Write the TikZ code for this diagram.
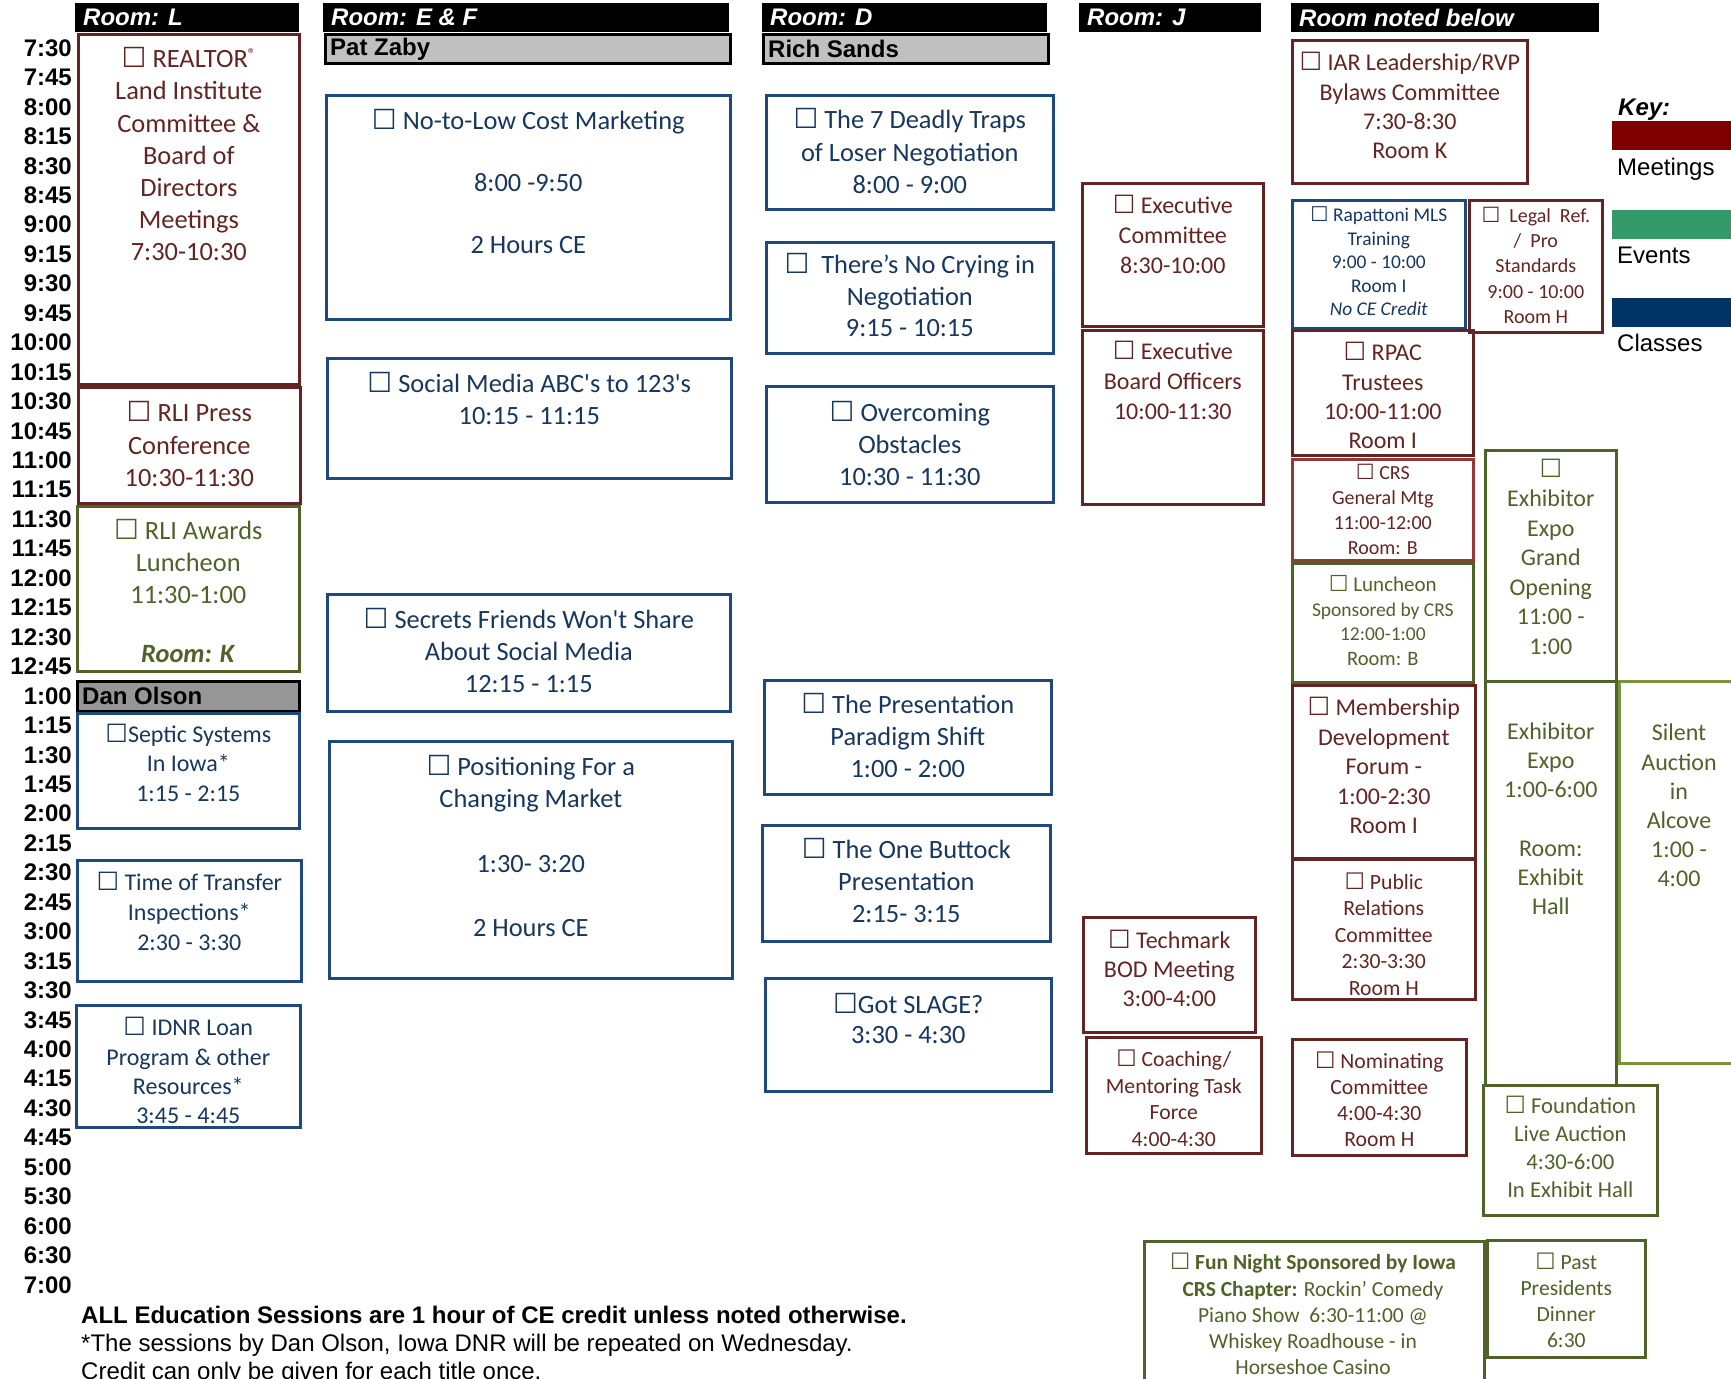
\documentclass[tikz,border=0pt]{standalone}
\usepackage{fontspec}
\setmainfont{Carlito}
\newfontfamily\arial{Liberation Sans}
\newfontfamily\symf{DejaVu Sans}
\usepackage{graphicx}
\usetikzlibrary{positioning}

\definecolor{meetc}{RGB}{99,37,35}
\definecolor{meetlt}{RGB}{149,55,53}
\definecolor{eventc}{RGB}{79,98,40}
\definecolor{eventlt}{RGB}{119,147,60}
\definecolor{classc}{RGB}{31,73,125}
\definecolor{classtxt}{RGB}{23,55,94}
\definecolor{keymeet}{RGB}{128,0,0}
\definecolor{keyevent}{RGB}{51,153,102}
\definecolor{keyclass}{RGB}{0,51,102}
\definecolor{grayhdr}{RGB}{192,192,192}
\definecolor{graydan}{RGB}{150,150,150}

\newcommand{\cbox}{{\symf\scalebox{1.05}{☐}}}
\newcommand{\regd}{\raisebox{0.32em}{\scalebox{0.6}{®}}}

\tikzset{
    slot/.style={draw, line width=2.6pt, inner sep=0pt, anchor=north west},
    sz/.style 2 args={minimum width=#1pt, minimum height=#2pt},
    meet/.style={slot, draw=meetc},
    meetl/.style={slot, draw=meetlt},
    event/.style={slot, draw=eventc},
    eventl/.style={slot, draw=eventlt},
    classb/.style={slot, draw=classc},
    fs/.style 2 args={font=\fontsize{#1}{#2}\selectfont},
    ttx/.style={align=center, inner sep=0pt, yshift=-3pt,
        execute at begin node=\strut, execute at end node=\strut},
    mtxt/.style={ttx, text=meetc},
    etxt/.style={ttx, text=eventc},
    ctxt/.style={ttx, text=classtxt},
    roomhdr/.style={fill=black, inner sep=0pt, anchor=north west},
    hdrtxt/.style={text=white, inner sep=0pt,
        font=\arial\bfseries\itshape\fontsize{24}{28}\selectfont},
    speaker/.style={draw=black, line width=2.6pt, inner sep=0pt, anchor=north west},
    spktxt/.style={inner sep=0pt, font=\arial\bfseries\fontsize{24}{28}\selectfont},
    tlabel/.style={inner sep=0pt, anchor=east, font=\arial\bfseries\fontsize{24}{28}\selectfont},
    keybar/.style={inner sep=0pt, anchor=north west, minimum width=133pt, minimum height=29pt},
    keytxt/.style={inner sep=0pt, anchor=base west, font=\arial\fontsize{24}{28}\selectfont},
    note/.style={inner sep=0pt, anchor=base west, font=\arial\fontsize{24}{28}\selectfont}
}

\begin{document}
\begin{tikzpicture}[x=1pt, y=-1pt]
\fill[white] (0,0) rectangle (1731,1378);
\useasboundingbox (0,0) rectangle (1731,1378);

\foreach \t [count=\i from 0] in {7:30,7:45,8:00,8:15,8:30,8:45,9:00,9:15,9:30,9:45,10:00,10:15,10:30,10:45,11:00,11:15,11:30,11:45,12:00,12:15,12:30,12:45,1:00,1:15,1:30,1:45,2:00,2:15,2:30,2:45,3:00,3:15,3:30,3:45,4:00,4:15,4:30,4:45,5:00,5:30,6:00,6:30,7:00}
    \node[tlabel] (t\i) at (72,{48+29.45*\i}) {\t};

% Room L
\node[roomhdr, sz={224}{29}] (hdrL) at (75,3) {};
\node[hdrtxt, right=8pt of hdrL.west] (hdrL-t) {Room: L};
\node[meet, sz={221}{350}] (realtor) at (77,33) {};
\node[mtxt, fs={26.4}{32.2}] (realtor-t) at (realtor.center |- 0,156) {\cbox{} REALTOR\regd\\Land Institute\\Committee \&\\Board of\\Directors\\Meetings\\7:30-10:30};
\node[meet, sz={222}{116}] (rlipress) at (77,386) {};
\node[mtxt, fs={26.4}{32.3}] (rlipress-t) at (rlipress.center |- 0,446) {\cbox{} RLI Press\\Conference\\10:30-11:30};
\node[event, sz={222}{165}] (rliaward) at (76,505) {};
\node[etxt, fs={26.4}{32}] (rliaward-t) at (rliaward.center |- 0,593) {\cbox{} RLI Awards\\Luncheon\\11:30-1:00\\[27pt]\textbf{\textit{Room: K}}};
\node[speaker, fill=graydan, sz={222}{30}] (dan) at (76,680) {};
\node[spktxt, right=6pt of dan.west] (dan-t) {Dan Olson};
\node[classb, sz={222}{115}] (septic) at (76,712) {};
\node[ctxt, fs={24}{29.5}] (septic-t) at (septic.center |- 0,764) {\cbox Septic Systems\\In Iowa*\\1:15 - 2:15};
\node[classb, sz={224}{121}] (transfer) at (76,859) {};
\node[ctxt, fs={24}{30}] (transfer-t) at (transfer.center |- 0,913) {\cbox{} Time of Transfer\\Inspections*\\2:30 - 3:30};
\node[classb, sz={224}{122}] (idnr) at (75,1004) {};
\node[ctxt, fs={24}{29.3}] (idnr-t) at (idnr.center |- 0,1072) {\cbox{} IDNR Loan\\Program \& other\\Resources*\\3:45 - 4:45};

% Room E & F
\node[roomhdr, sz={406}{29}] (hdrEF) at (323,3) {};
\node[hdrtxt, right=8pt of hdrEF.west] (hdrEF-t) {Room: E \& F};
\node[speaker, fill=grayhdr, sz={405}{29}] (pat) at (324,33) {};
\node[spktxt, right=6pt of pat.west] (pat-t) {Pat Zaby};
\node[classb, sz={404}{224}] (nolow) at (325,94) {};
\node[ctxt, fs={26.4}{31}] (nolow-t) at (nolow.center |- 0,183) {\cbox{} No-to-Low Cost Marketing\\~\\8:00 -9:50\\~\\2 Hours CE};
\node[classb, sz={404}{120}] (social) at (326,357) {};
\node[ctxt, fs={26.4}{32}] (social-t) at (social.center |- 0,400) {\cbox{} Social Media ABC\textquotesingle s to 123\textquotesingle s\\10:15 - 11:15};
\node[classb, sz={403}{117}] (secrets) at (326,593) {};
\node[ctxt, fs={26.4}{32}] (secrets-t) at (secrets.center |- 0,652) {\cbox{} Secrets Friends Won\textquotesingle t Share\\About Social Media\\12:15 - 1:15};
\node[classb, sz={403}{237}] (position) at (328,740) {};
\node[ctxt, fs={26.4}{32.2}] (position-t) at (position.center |- 0,848) {\cbox{} Positioning For a\\Changing Market\\~\\1:30- 3:20\\~\\2 Hours CE};

% Room D
\node[roomhdr, sz={285}{29}] (hdrD) at (762,3) {};
\node[hdrtxt, right=8pt of hdrD.west] (hdrD-t) {Room: D};
\node[speaker, fill=grayhdr, sz={285}{29}] (rich) at (762,33) {};
\node[spktxt, right=6pt of rich.west] (rich-t) {Rich Sands};
\node[classb, sz={287}{114}] (deadly) at (765,94) {};
\node[ctxt, fs={26.4}{32.5}] (deadly-t) at (deadly.center |- 0,153) {\cbox{} The 7 Deadly Traps\\of Loser Negotiation\\8:00 - 9:00};
\node[classb, sz={287}{111}] (crying) at (765,241) {};
\node[ctxt, fs={26.4}{31.5}] (crying-t) at (crying.center |- 0,297) {\cbox{}\ \ There’s No Crying in\\Negotiation\\9:15 - 10:15};
\node[classb, sz={287}{116}] (obstacle) at (765,385) {};
\node[ctxt, fs={26.4}{32}] (obstacle-t) at (obstacle.center |- 0,445) {\cbox{} Overcoming\\Obstacles\\10:30 - 11:30};
\node[classb, sz={287}{114}] (paradigm) at (763,679) {};
\node[ctxt, fs={26.4}{32}] (paradigm-t) at (paradigm.center |- 0,737) {\cbox{} The Presentation\\Paradigm Shift\\1:00 - 2:00};
\node[classb, sz={288}{116}] (buttock) at (761,824) {};
\node[ctxt, fs={26.4}{32}] (buttock-t) at (buttock.center |- 0,882) {\cbox{} The One Buttock\\Presentation\\2:15- 3:15};
\node[classb, sz={286}{113}] (slage) at (764,977) {};
\node[ctxt, fs={26.4}{30}] (slage-t) at (slage.center |- 0,1020) {\cbox Got SLAGE?\\3:30 - 4:30};

% Room J
\node[roomhdr, sz={182}{29}] (hdrJ) at (1079,3) {};
\node[hdrtxt, right=8pt of hdrJ.west] (hdrJ-t) {Room: J};
\node[meet, sz={181}{143}] (execcom) at (1081,182) {};
\node[mtxt, fs={24}{30}] (execcom-t) at (execcom.center |- 0,236) {\cbox{} Executive\\Committee\\8:30-10:00};
\node[meet, sz={181}{174}] (execbrd) at (1081,329) {};
\node[mtxt, fs={24}{30}] (execbrd-t) at (execbrd.center |- 0,382) {\cbox{} Executive\\Board Officers\\10:00-11:30};
\node[meet, sz={172}{115}] (techmark) at (1082,916) {};
\node[mtxt, fs={24}{29}] (techmark-t) at (techmark.center |- 0,970) {\cbox{} Techmark\\BOD Meeting\\3:00-4:00};
\node[meet, sz={175}{116}] (coaching) at (1085,1036) {};
\node[mtxt, fs={21.7}{26.5}] (coaching-t) at (coaching.center |- 0,1099) {\cbox{} Coaching/\\Mentoring Task\\Force\\4:00-4:30};

% Room noted below
\node[roomhdr, sz={308}{29}] (hdrN) at (1291,3) {};
\node[hdrtxt, right=8pt of hdrN.west] (hdrN-t) {Room noted below};
\node[meet, sz={235}{143}] (iar) at (1291,39) {};
\node[mtxt, fs={24}{29.4}] (iar-t) at (iar.center |- 0,107) {\cbox{} IAR Leadership/RVP\\Bylaws Committee\\7:30-8:30\\Room K};
\node[classb, sz={173}{128}] (rapattoni) at (1291,199) {};
\node[ctxt, fs={19.4}{23.5}] (rapattoni-t) at (rapattoni.center |- 0,262) {\cbox{} Rapattoni MLS\\Training\\9:00 - 10:00\\Room I\\\textit{No CE Credit}};
\node[meet, sz={133}{132}] (legal) at (1468,199) {};
\node[mtxt, fs={20}{25.2}] (legal-t) at (legal.center |- 0,266) {\cbox{}\ \ Legal\ \ Ref.\\/\ \ Pro\\Standards\\9:00 - 10:00\\Room H};
\node[meet, sz={181}{125}] (rpac) at (1291,329) {};
\node[mtxt, fs={24}{29.4}] (rpac-t) at (rpac.center |- 0,397) {\cbox{} RPAC\\Trustees\\10:00-11:00\\Room I};
\node[meetl, sz={181}{101}] (crsgen) at (1291,458) {};
\node[mtxt, fs={20}{25}] (crsgen-t) at (crsgen.center |- 0,510) {\cbox{} CRS\\General Mtg\\11:00-12:00\\Room: B};
\node[event, sz={181}{119}] (lunch) at (1291,562) {};
\node[etxt, fs={19.5}{24.5}] (lunch-t) at (lunch.center |- 0,621) {{\fontsize{21}{24.5}\selectfont\cbox{} Luncheon}\\Sponsored by CRS\\12:00-1:00\\{\fontsize{20.5}{24.5}\selectfont Room: B}};
\node[meet, sz={183}{173}] (member) at (1291,684) {};
\node[mtxt, fs={24}{29.4}] (member-t) at (member.center |- 0,767) {\cbox{} Membership\\Development\\Forum -\\1:00-2:30\\Room I};
\node[meet, sz={183}{140}] (pubrel) at (1291,858) {};
\node[mtxt, fs={21.7}{26.5}] (pubrel-t) at (pubrel.center |- 0,935) {\cbox{} Public\\Relations\\Committee\\2:30-3:30\\Room H};
\node[meet, sz={174}{116}] (nominate) at (1291,1038) {};
\node[mtxt, fs={21.7}{26}] (nominate-t) at (nominate.center |- 0,1100) {\cbox{} Nominating\\Committee\\4:00-4:30\\Room H};
\node[event, sz={131}{231}] (expogo) at (1484,449) {};
\node[etxt, fs={24}{29.5}] (expogo-t) at (expogo.center |- 0,558) {\cbox\\Exhibitor\\Expo\\Grand\\Opening\\11:00 -\\1:00};
\node[event, sz={131}{404}] (expo) at (1484,680) {};
\node[etxt, fs={24}{29.3}] (expo-t) at (expo.center |- 0,820) {Exhibitor\\Expo\\1:00-6:00\\~\\Room:\\Exhibit\\Hall};
\node[eventl, sz={127}{382}] (silent) at (1618,680) {};
\node[etxt, fs={24}{29.2}] (silent-t) at (1679,807) {Silent\\Auction\\in\\Alcove\\1:00 -\\4:00};
\node[event, sz={174}{130}] (found) at (1482,1084) {};
\node[etxt, fs={22.7}{28}] (found-t) at (found.center |- 0,1148) {\cbox{} Foundation\\Live Auction\\4:30-6:00\\In Exhibit Hall};
\node[event, sz={340}{155}] (funnight) at (1143,1240) {};
\node[etxt, fs={21.5}{26.3}] (funnight-t) at (1313,1315) {\cbox{} \textbf{Fun Night Sponsored by Iowa}\\\textbf{CRS Chapter:} Rockin' Comedy\\Piano Show\ \ 6:30-11:00 @\\Whiskey Roadhouse - in\\Horseshoe Casino};
\node[event, sz={158}{117}] (pastpres) at (1486,1239) {};
\node[etxt, fs={21.6}{26}] (pastpres-t) at (pastpres.center |- 0,1301) {\cbox{} Past\\Presidents\\Dinner\\6:30};

% Key
\node[keytxt, font=\arial\bfseries\itshape\fontsize{24}{28}\selectfont] (key) at (1618,116) {Key:};
\node[keybar, fill=keymeet] (keym) at (1612,121) {};
\node[keytxt] (keym-t) at (1617,175) {Meetings};
\node[keybar, fill=keyevent] (keye) at (1612,210) {};
\node[keytxt] (keye-t) at (1617,263) {Events};
\node[keybar, fill=keyclass] (keyc) at (1612,298) {};
\node[keytxt] (keyc-t) at (1617,351) {Classes};

\node[note, font=\arial\bfseries\fontsize{24}{28}\selectfont] (note1) at (81,1323) {ALL Education Sessions are 1 hour of CE credit unless noted otherwise.};
\node[note] (note2) at (81,1351) {*The sessions by Dan Olson, Iowa DNR will be repeated on Wednesday.};
\node[note] (note3) at (81,1379) {Credit can only be given for each title once.};

\end{tikzpicture}
\end{document}
